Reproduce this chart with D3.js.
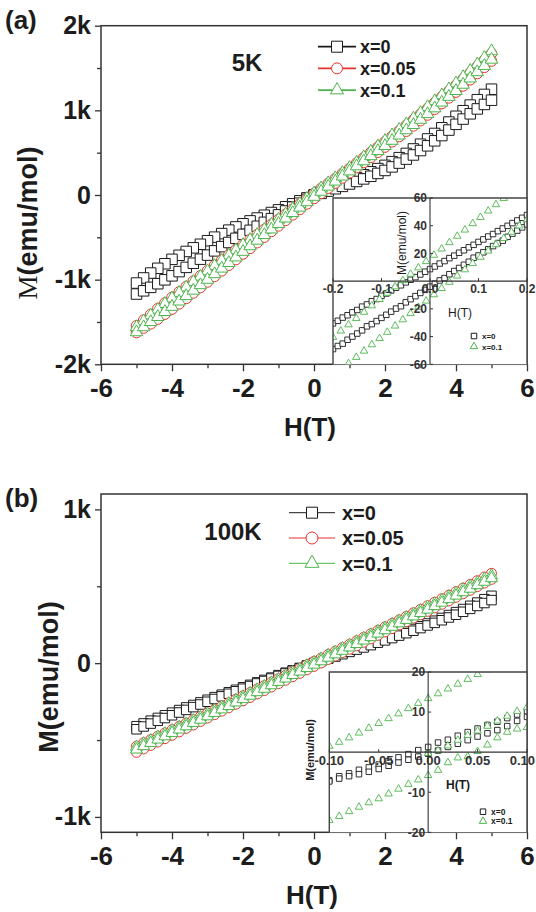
<!DOCTYPE html>
<html><head><meta charset="utf-8">
<script src="https://cdn.jsdelivr.net/npm/d3@7"></script>
<style>body{margin:0;background:#fff}</style>
</head><body>
<svg id="c" width="536" height="912" xmlns="http://www.w3.org/2000/svg"></svg>
<script>
// ---------------- DATA ----------------
const H_MAIN = [-5,-4.8,-4.6,-4.4,-4.2,-4,-3.8,-3.6,-3.4,-3.2,-3,-2.8,-2.6,-2.4,-2.2,-2,-1.8,-1.6,-1.4,-1.2,-1,-0.8,-0.6,-0.4,-0.2,0,0.2,0.4,0.6,0.8,1,1.2,1.4,1.6,1.8,2,2.2,2.4,2.6,2.8,3,3.2,3.4,3.6,3.8,4,4.2,4.4,4.6,4.8,5];
const SERIES_NAMES = ["x=0", "x=0.05", "x=0.1"];
const X_TICKS = [-6,-4,-2,0,2,4,6];
const X_MINOR = [-5,-3,-1,1,3,5];

// (a) 5K, emu/mol
const A_X0_DESC = [-1040,-980,-922,-866,-812,-760,-712,-667,-624,-582,-540,-498,-456,-415,-377,-340,-306,-272,-239,-207,-175,-139,-104,-69,-34,2,36,71,105,138,172,205,239,274,312,350,394,441,491,544,600,662,727,794,862,930,996,1062,1126,1188,1250];
const A_X0_ASC = [-1170,-1132,-1091,-1048,-1002,-955,-905,-855,-806,-758,-710,-660,-610,-561,-512,-465,-417,-369,-323,-279,-235,-189,-143,-97,-52,-8,19,46,74,102,130,160,190,221,255,290,332,377,424,473,525,581,640,702,767,835,897,959,1017,1070,1120];
const A_X005_DESC = [-1545,-1478,-1410,-1342,-1276,-1210,-1146,-1082,-1018,-955,-893,-831,-770,-708,-647,-586,-526,-467,-407,-347,-288,-227,-166,-105,-44,18,77,136,196,255,314,377,440,504,567,630,695,760,824,889,955,1023,1092,1160,1229,1298,1372,1445,1520,1595,1672];
const A_X005_ASC = [-1625,-1572,-1522,-1466,-1408,-1349,-1286,-1222,-1158,-1093,-1028,-962,-896,-830,-763,-697,-631,-564,-498,-431,-365,-300,-235,-171,-106,-42,19,80,140,201,262,323,384,444,505,566,628,691,753,816,878,945,1012,1080,1147,1215,1288,1361,1435,1508,1582];
const A_X01_DESC = [-1560,-1491,-1422,-1354,-1286,-1220,-1155,-1091,-1027,-963,-900,-838,-776,-714,-652,-590,-530,-470,-410,-350,-290,-228,-167,-105,-42,20,80,140,200,260,320,384,448,512,576,640,706,771,837,904,970,1040,1109,1179,1250,1320,1394,1469,1545,1622,1700];
const A_X01_ASC = [-1620,-1561,-1500,-1440,-1381,-1320,-1257,-1193,-1129,-1064,-1000,-934,-868,-802,-736,-670,-604,-538,-472,-406,-340,-276,-212,-148,-84,-20,40,100,160,220,280,340,400,460,520,580,642,704,766,828,890,957,1025,1093,1161,1230,1304,1378,1452,1526,1600];
const A_Y_TICKS = [-2000,-1000,0,1000,2000];
const A_Y_LABELS = ["-2k","-1k","0","1k","2k"];
const A_Y_MINOR = [-1500,-500,500,1500];

// (b) 100K, emu/mol
const B_X0_DESC = [-410,-392,-374,-356,-339,-322,-305,-288,-272,-255,-238,-221,-205,-189,-173,-157,-141,-125,-109,-94,-78,-62,-47,-31,-15,1,16,31,47,62,77,92,108,124,140,156,172,189,206,222,240,258,276,294,313,332,352,373,394,416,438];
const B_X0_ASC = [-430,-412,-393,-375,-357,-339,-321,-304,-286,-269,-251,-233,-216,-199,-183,-166,-149,-132,-116,-100,-83,-67,-50,-34,-18,-1,14,29,43,58,73,88,102,117,133,148,163,179,195,211,228,245,262,279,297,315,334,353,372,391,410];
const B_X005_DESC = [-540,-518,-497,-475,-454,-433,-411,-390,-368,-347,-325,-303,-280,-258,-235,-213,-191,-168,-146,-123,-101,-79,-56,-34,-11,11,33,56,78,101,123,145,168,191,213,236,259,281,304,327,350,373,396,419,442,465,488,512,536,560,584];
const B_X005_ASC = [-580,-558,-535,-513,-491,-469,-447,-424,-402,-379,-357,-335,-312,-290,-267,-245,-223,-200,-178,-155,-133,-111,-88,-66,-43,-21,1,24,46,69,91,113,136,158,181,203,225,248,270,293,315,337,360,383,405,428,451,474,498,521,545];
const B_X01_DESC = [-545,-523,-502,-480,-459,-438,-416,-395,-373,-352,-330,-308,-285,-263,-240,-218,-196,-173,-151,-128,-106,-84,-61,-39,-16,6,28,51,73,96,118,140,163,185,208,230,252,275,297,320,342,365,387,410,433,456,479,501,524,547,570];
const B_X01_ASC = [-562,-540,-519,-497,-476,-454,-432,-411,-389,-368,-346,-324,-301,-279,-256,-234,-212,-189,-167,-144,-122,-100,-77,-55,-32,-10,12,35,57,80,102,124,147,169,192,214,236,259,281,304,326,348,371,393,416,439,461,484,507,529,552];
const B_Y_TICKS = [-1000,0,1000];
const B_Y_LABELS = ["-1k","0","1k"];
const B_Y_MINOR = [-500,500];

// inset (a), emu/mol vs T
const IA_H_SQ = [-0.20,-0.19,-0.18,-0.17,-0.16,-0.15,-0.14,-0.13,-0.12,-0.11,-0.10,-0.09,-0.08,-0.07,-0.06,-0.05,-0.04,-0.03,-0.02,-0.01,0,0.01,0.02,0.03,0.04,0.05,0.06,0.07,0.08,0.09,0.10,0.11,0.12,0.13,0.14,0.15,0.16,0.17,0.18,0.19,0.20];
const IA_X0_DESC = [-30.5,-28.6,-26.3,-24.6,-22.5,-20.8,-18.4,-16.8,-14.5,-12.9,-10.6,-8.9,-6.7,-4.8,-3.0,-0.9,1.0,2.9,4.8,6.8,8.7,10.6,12.7,14.5,16.6,18.4,20.5,22.3,24.4,26.2,28.3,30.1,32.2,34.0,36.1,38.0,39.9,41.9,43.8,45.7,47.7];
const IA_X0_ASC = [-49.0,-46.8,-45.1,-42.3,-40.0,-37.8,-35.5,-32.6,-31.0,-28.8,-26.5,-24.3,-22.0,-19.8,-18.1,-15.3,-13.0,-10.8,-8.5,-6.3,-4.0,-1.8,0.5,2.2,5.0,7.3,9.5,11.8,14.0,16.9,18.5,20.8,23.0,25.3,27.5,29.2,32.0,34.3,36.5,38.8,41.0];
const IA_H_TR = [-0.200,-0.184,-0.168,-0.152,-0.136,-0.120,-0.104,-0.088,-0.072,-0.056,-0.040,-0.024,-0.008,0.008,0.024,0.040,0.056,0.072,0.088,0.104,0.120,0.136,0.152,0.168,0.184,0.200];
const IA_X01_UP = [-40.5,-35.9,-31.4,-26.8,-22.3,-17.7,-13.1,-8.6,-4.0,0.5,5.1,9.7,14.2,18.8,23.3,27.9,32.5,37.0,41.6,46.1,50.7,55.3,59.8,64.4,68.9,73.5];
const IA_X01_LOW = [-68.4,-63.9,-59.4,-54.9,-50.4,-45.8,-41.3,-36.8,-32.3,-27.8,-23.3,-18.8,-14.3,-9.7,-5.2,-0.7,3.8,8.3,12.8,17.3,21.8,26.4,30.9,35.4,39.9,44.4];
const IA_X_TICKS = [-0.2,-0.1,0,0.1,0.2];
const IA_X_LABELS = ["-0.2","-0.1","0.0","0.1","0.2"];
const IA_Y_TICKS = [-60,-40,-20,20,40,60];

// inset (b)
const IB_H = [-0.10,-0.09,-0.08,-0.07,-0.06,-0.05,-0.04,-0.03,-0.02,-0.01,0,0.01,0.02,0.03,0.04,0.05,0.06,0.07,0.08,0.09,0.10];
const IB_X0_UP = [-7.0,-6.0,-5.3,-4.4,-3.8,-3.1,-2.2,-1.3,-0.5,0.5,1.3,2.4,3.1,4.1,5.0,5.9,6.8,7.6,8.5,9.4,10.2];
const IB_X0_LOW = [-7.3,-6.6,-6.0,-5.5,-4.9,-4.2,-3.4,-2.6,-1.9,-1.1,-0.4,0.4,1.3,2.1,3.0,3.9,4.7,5.5,6.5,7.8,8.8];
const IB_X01_UP = [1.5,2.5,3.6,4.8,6.0,7.2,8.4,9.6,10.9,12.2,13.4,14.6,15.8,17.0,18.2,19.4,20.6,21.8,23.0,24.2,25.4];
const IB_X01_LOW = [-17.0,-16.0,-14.8,-13.7,-12.6,-11.6,-10.4,-9.2,-8.0,-6.9,-5.8,-4.5,-2.6,-1.4,-1.1,0.2,1.8,3.6,5.0,5.8,6.2];
const IB_H_V = [0,0.01,0.02,0.03,0.04,0.05,0.06,0.07,0.08,0.09,0.10];
const IB_X01_VIRGIN = [-0.3,0.4,1.6,3.0,4.2,5.3,6.5,7.8,9.0,10.2,11.2];
const IB_X_TICKS = [-0.1,-0.05,0,0.05,0.1];
const IB_X_LABELS = ["-0.10","-0.05","0.00","0.05","0.10"];
const IB_Y_TICKS = [-20,-10,10,20];

// ---------------- STYLE ----------------
const FONT = "'Liberation Sans', Arial, sans-serif";
const INK = "#1c1c1c";
const AXIS = "#333";
const COL = {x0: "#1a1a1a", x005: "#e8332e", x01: "#4db54d"};
const svg = d3.select("#c");

const SYM = {square: d3.symbolSquare, circle: d3.symbolCircle, triangle: d3.symbolTriangle};
function sym(shape, w) {
  const area = shape === "square" ? w * w : shape === "circle" ? Math.PI * w * w / 4 : Math.sqrt(3) / 4 * w * w;
  return d3.symbol().type(SYM[shape]).size(area)();
}
function txt(g, x, y, s, size, weight, anchor, family) {
  return g.append("text").attr("x", x).attr("y", y).text(s)
    .attr("font-size", size).attr("font-weight", weight || "bold")
    .attr("text-anchor", anchor || "start").attr("font-family", family || FONT).attr("fill", INK);
}

function drawMain(p) {
  const x = d3.scaleLinear().domain([-6, 6]).range([p.left, p.right]);
  const y = d3.scaleLinear().domain(p.yDom).range([p.bottom, p.top]);
  const g = svg.append("g");
  p.series.forEach(s => {
    const desc = H_MAIN.map((h, i) => [h, s.desc[i]]).reverse();
    const asc = H_MAIN.map((h, i) => [h, s.asc[i]]);
    const pts = desc.concat(asc);
    g.append("path").attr("d", d3.line().x(d => x(d[0])).y(d => y(d[1]))(pts))
      .attr("fill", "none").attr("stroke", s.color).attr("stroke-width", 1);
    const dd = sym(s.shape, p.msize[s.shape]);
    g.append("g").selectAll("path").data(pts).join("path").attr("d", dd)
      .attr("transform", d => `translate(${x(d[0])},${y(d[1])})`)
      .attr("fill", "#fff").attr("stroke", s.color).attr("stroke-width", 1);
  });
  svg.append("rect").attr("x", p.left).attr("y", p.top).attr("width", p.right - p.left).attr("height", p.bottom - p.top)
    .attr("fill", "none").attr("stroke", AXIS).attr("stroke-width", 1.5);
  const styleAxis = (a, fs) => {
    a.select(".domain").remove();
    a.selectAll("line").attr("stroke", AXIS).attr("stroke-width", 1.3);
    a.selectAll("text").attr("font-size", fs).attr("font-weight", "bold").attr("font-family", FONT).attr("fill", INK);
  };
  styleAxis(svg.append("g").attr("transform", `translate(0,${p.bottom})`)
    .call(d3.axisBottom(x).tickValues(X_TICKS).tickSize(7).tickPadding(7).tickFormat(d => String(d))), 26);
  styleAxis(svg.append("g").attr("transform", `translate(0,${p.bottom})`)
    .call(d3.axisBottom(x).tickValues(X_MINOR).tickSize(4).tickFormat("")), 10);
  styleAxis(svg.append("g").attr("transform", `translate(${p.left},0)`)
    .call(d3.axisLeft(y).tickValues(p.yTicks).tickSize(6).tickPadding(4).tickFormat((d, i) => p.yLabels[i])), 25);
  styleAxis(svg.append("g").attr("transform", `translate(${p.left},0)`)
    .call(d3.axisLeft(y).tickValues(p.yMinor).tickSize(4).tickFormat("")), 10);
  return {x, y};
}

function legend(items, l) {
  const g = svg.append("g");
  items.forEach((it, i) => {
    const cy = l.y0 + i * l.dy;
    g.append("line").attr("x1", l.x1).attr("x2", l.x2).attr("y1", cy).attr("y2", cy)
      .attr("stroke", it.color).attr("stroke-width", l.lw);
    g.append("path").attr("d", sym(it.shape, l.ms[it.shape])).attr("transform", `translate(${(l.x1 + l.x2) / 2},${cy})`)
      .attr("fill", "#fff").attr("stroke", it.color).attr("stroke-width", 1);
    txt(g, l.tx, cy + l.fs * 0.36, it.name, l.fs, "bold");
  });
}

function drawInset(p) {
  const x = d3.scaleLinear().domain(p.xDom).range([p.left, p.right]);
  const y = d3.scaleLinear().domain(p.yDom).range([p.bottom, p.top]);
  const g = svg.append("g");
  const id = "clip" + p.id;
  svg.append("clipPath").attr("id", id).append("rect").attr("x", p.left).attr("y", p.top)
    .attr("width", p.right - p.left).attr("height", p.bottom - p.top);
  g.append("rect").attr("x", p.left).attr("y", p.top).attr("width", p.right - p.left).attr("height", p.bottom - p.top)
    .attr("fill", "#fff");
  const dg = g.append("g").attr("clip-path", `url(#${id})`);
  p.sets.forEach(s => {
    const pts = s.h.map((h, i) => [h, s.m[i]]);
    dg.append("g").selectAll("path").data(pts).join("path").attr("d", sym(s.shape, s.size))
      .attr("transform", d => `translate(${x(d[0])},${y(d[1])})`)
      .attr("fill", "#fff").attr("stroke", s.color).attr("stroke-width", 0.9);
  });
  g.append("path").attr("d", `M${p.left},${p.bottom}V${p.top}H${p.right}V${p.bottom}`)
    .attr("fill", "none").attr("stroke", "#444").attr("stroke-width", 1.4);
  const x0 = x(0), y0 = y(0);
  g.append("line").attr("x1", x0).attr("x2", x0).attr("y1", p.top).attr("y2", p.bottom).attr("stroke", "#333").attr("stroke-width", 1.1);
  g.append("line").attr("x1", p.left).attr("x2", p.right).attr("y1", y0).attr("y2", y0).attr("stroke", "#333").attr("stroke-width", 1.1);
  p.yTicks.forEach(v => {
    g.append("line").attr("x1", x0).attr("x2", x0 + 3).attr("y1", y(v)).attr("y2", y(v)).attr("stroke", "#333");
    txt(g, x0 - 3, y(v) + p.yfs * 0.36, String(v), p.yfs, "bold", "end").attr("fill", "#333");
  });
  p.xTicks.forEach((v, i) => {
    g.append("line").attr("x1", x(v)).attr("x2", x(v)).attr("y1", y0 - 3).attr("y2", y0).attr("stroke", "#333");
    const last = i === p.xTicks.length - 1 && p.lastEnd;
    txt(g, last ? p.lastEnd : x(v), y0 + p.xlabDy, p.xLabels[i], p.xfs, "bold", last ? "end" : "middle").attr("fill", "#333");
  });
  g.append("text").attr("transform", `translate(${p.yTitle[0]},${p.yTitle[1]}) rotate(-90)`)
    .attr("text-anchor", "middle").attr("font-family", FONT).attr("font-size", p.yTitle[2])
    .attr("font-weight", p.yTitle[3]).attr("fill", INK).text("M(emu/mol)");
  txt(g, p.hTitle[0], p.hTitle[1], "H(T)", p.hTitle[2], p.hTitle[3], "middle");
  p.legend.forEach((it, i) => {
    const cy = p.leg.y0 + i * p.leg.dy;
    g.append("path").attr("d", sym(it.shape, it.size)).attr("transform", `translate(${p.leg.x},${cy})`)
      .attr("fill", "#fff").attr("stroke", it.color).attr("stroke-width", 1);
    txt(g, p.leg.x + 8, cy + 3, it.name, p.leg.fs, "bold");
  });
}

// ---------------- PANEL (a) ----------------
drawMain({
  left: 101, right: 527, top: 25.7, bottom: 364.3, yDom: [-2000, 2000],
  yTicks: A_Y_TICKS, yLabels: A_Y_LABELS, yMinor: A_Y_MINOR,
  msize: {square: 10.5, circle: 10.5, triangle: 12.5},
  series: [
    {desc: A_X0_DESC, asc: A_X0_ASC, color: COL.x0, shape: "square"},
    {desc: A_X005_DESC, asc: A_X005_ASC, color: COL.x005, shape: "circle"},
    {desc: A_X01_DESC, asc: A_X01_ASC, color: COL.x01, shape: "triangle"}
  ]
});
legend([
  {name: SERIES_NAMES[0], color: COL.x0, shape: "square"},
  {name: SERIES_NAMES[1], color: COL.x005, shape: "circle"},
  {name: SERIES_NAMES[2], color: COL.x01, shape: "triangle"}
], {x1: 318, x2: 356, y0: 46.7, dy: 21.7, tx: 360, fs: 18, lw: 1.8, ms: {square: 11, circle: 11, triangle: 13}});
txt(svg, 247, 71, "5K", 24, "bold", "middle");
txt(svg, 5, 29, "(a)", 26, "bold");
txt(svg, 310, 436, "H(T)", 26, "bold", "middle");
{
  const t = svg.append("text").attr("transform", "translate(37,223) rotate(-90)").attr("text-anchor", "middle")
    .attr("font-size", 27).attr("fill", INK);
  t.append("tspan").attr("font-family", "'Liberation Serif', 'Times New Roman', serif").text("M");
  t.append("tspan").attr("font-family", FONT).attr("font-weight", "bold").text("(emu/mol)");
}
drawInset({
  id: "a", left: 333, right: 527, top: 198, bottom: 364.3, xDom: [-0.2, 0.2], yDom: [-60, 60],
  sets: [
    {h: IA_H_SQ, m: IA_X0_DESC, shape: "square", size: 5.5, color: COL.x0},
    {h: IA_H_SQ, m: IA_X0_ASC, shape: "square", size: 5.5, color: COL.x0},
    {h: IA_H_TR, m: IA_X01_UP, shape: "triangle", size: 7.5, color: COL.x01},
    {h: IA_H_TR, m: IA_X01_LOW, shape: "triangle", size: 7.5, color: COL.x01}
  ],
  yTicks: IA_Y_TICKS, xTicks: IA_X_TICKS, xLabels: IA_X_LABELS, yfs: 12, xfs: 12, xlabDy: 12,
  yTitle: [406, 243, 12, "normal"], hTitle: [460, 317, 12, "normal"],
  legend: [
    {name: SERIES_NAMES[0], shape: "square", size: 5.5, color: COL.x0},
    {name: SERIES_NAMES[2], shape: "triangle", size: 7.5, color: COL.x01}
  ],
  leg: {x: 474, y0: 336, dy: 10.5, fs: 8}
});

// ---------------- PANEL (b) ----------------
drawMain({
  left: 101, right: 527, top: 494, bottom: 832.3, yDom: [-1100, 1100],
  yTicks: B_Y_TICKS, yLabels: B_Y_LABELS, yMinor: B_Y_MINOR,
  msize: {square: 9.5, circle: 10, triangle: 12},
  series: [
    {desc: B_X0_DESC, asc: B_X0_ASC, color: COL.x0, shape: "square"},
    {desc: B_X005_DESC, asc: B_X005_ASC, color: COL.x005, shape: "circle"},
    {desc: B_X01_DESC, asc: B_X01_ASC, color: COL.x01, shape: "triangle"}
  ]
});
legend([
  {name: SERIES_NAMES[0], color: COL.x0, shape: "square"},
  {name: SERIES_NAMES[1], color: COL.x005, shape: "circle"},
  {name: SERIES_NAMES[2], color: COL.x01, shape: "triangle"}
], {x1: 289, x2: 335, y0: 512.7, dy: 25.3, tx: 342, fs: 20, lw: 1, ms: {square: 11, circle: 12, triangle: 14}});
txt(svg, 233, 540, "100K", 24, "bold", "middle");
txt(svg, 5, 507, "(b)", 26, "bold");
txt(svg, 312, 904, "H(T)", 26, "bold", "middle");
svg.append("text").attr("transform", "translate(58,677) rotate(-90)").attr("text-anchor", "middle")
  .attr("font-size", 27).attr("font-weight", "bold").attr("font-family", FONT).attr("fill", INK).text("M(emu/mol)");
drawInset({
  id: "b", left: 329.3, right: 527, top: 672, bottom: 832.3, xDom: [-0.1, 0.1], yDom: [-20, 20],
  sets: [
    {h: IB_H, m: IB_X0_UP, shape: "square", size: 5.5, color: COL.x0},
    {h: IB_H, m: IB_X0_LOW, shape: "square", size: 5.5, color: COL.x0},
    {h: IB_H, m: IB_X01_UP, shape: "triangle", size: 7.5, color: COL.x01},
    {h: IB_H, m: IB_X01_LOW, shape: "triangle", size: 7.5, color: COL.x01},
    {h: IB_H_V, m: IB_X01_VIRGIN, shape: "triangle", size: 7.5, color: COL.x01}
  ],
  yTicks: IB_Y_TICKS, xTicks: IB_X_TICKS, xLabels: IB_X_LABELS, yfs: 12, xfs: 13, xlabDy: 13, lastEnd: 535,
  yTitle: [314, 750, 11, "bold"], hTitle: [458, 789, 12, "bold"],
  legend: [
    {name: SERIES_NAMES[0], shape: "square", size: 5.5, color: COL.x0},
    {name: SERIES_NAMES[2], shape: "triangle", size: 7.5, color: COL.x01}
  ],
  leg: {x: 483, y0: 811.7, dy: 9.5, fs: 8.5}
});
</script>
</body></html>
